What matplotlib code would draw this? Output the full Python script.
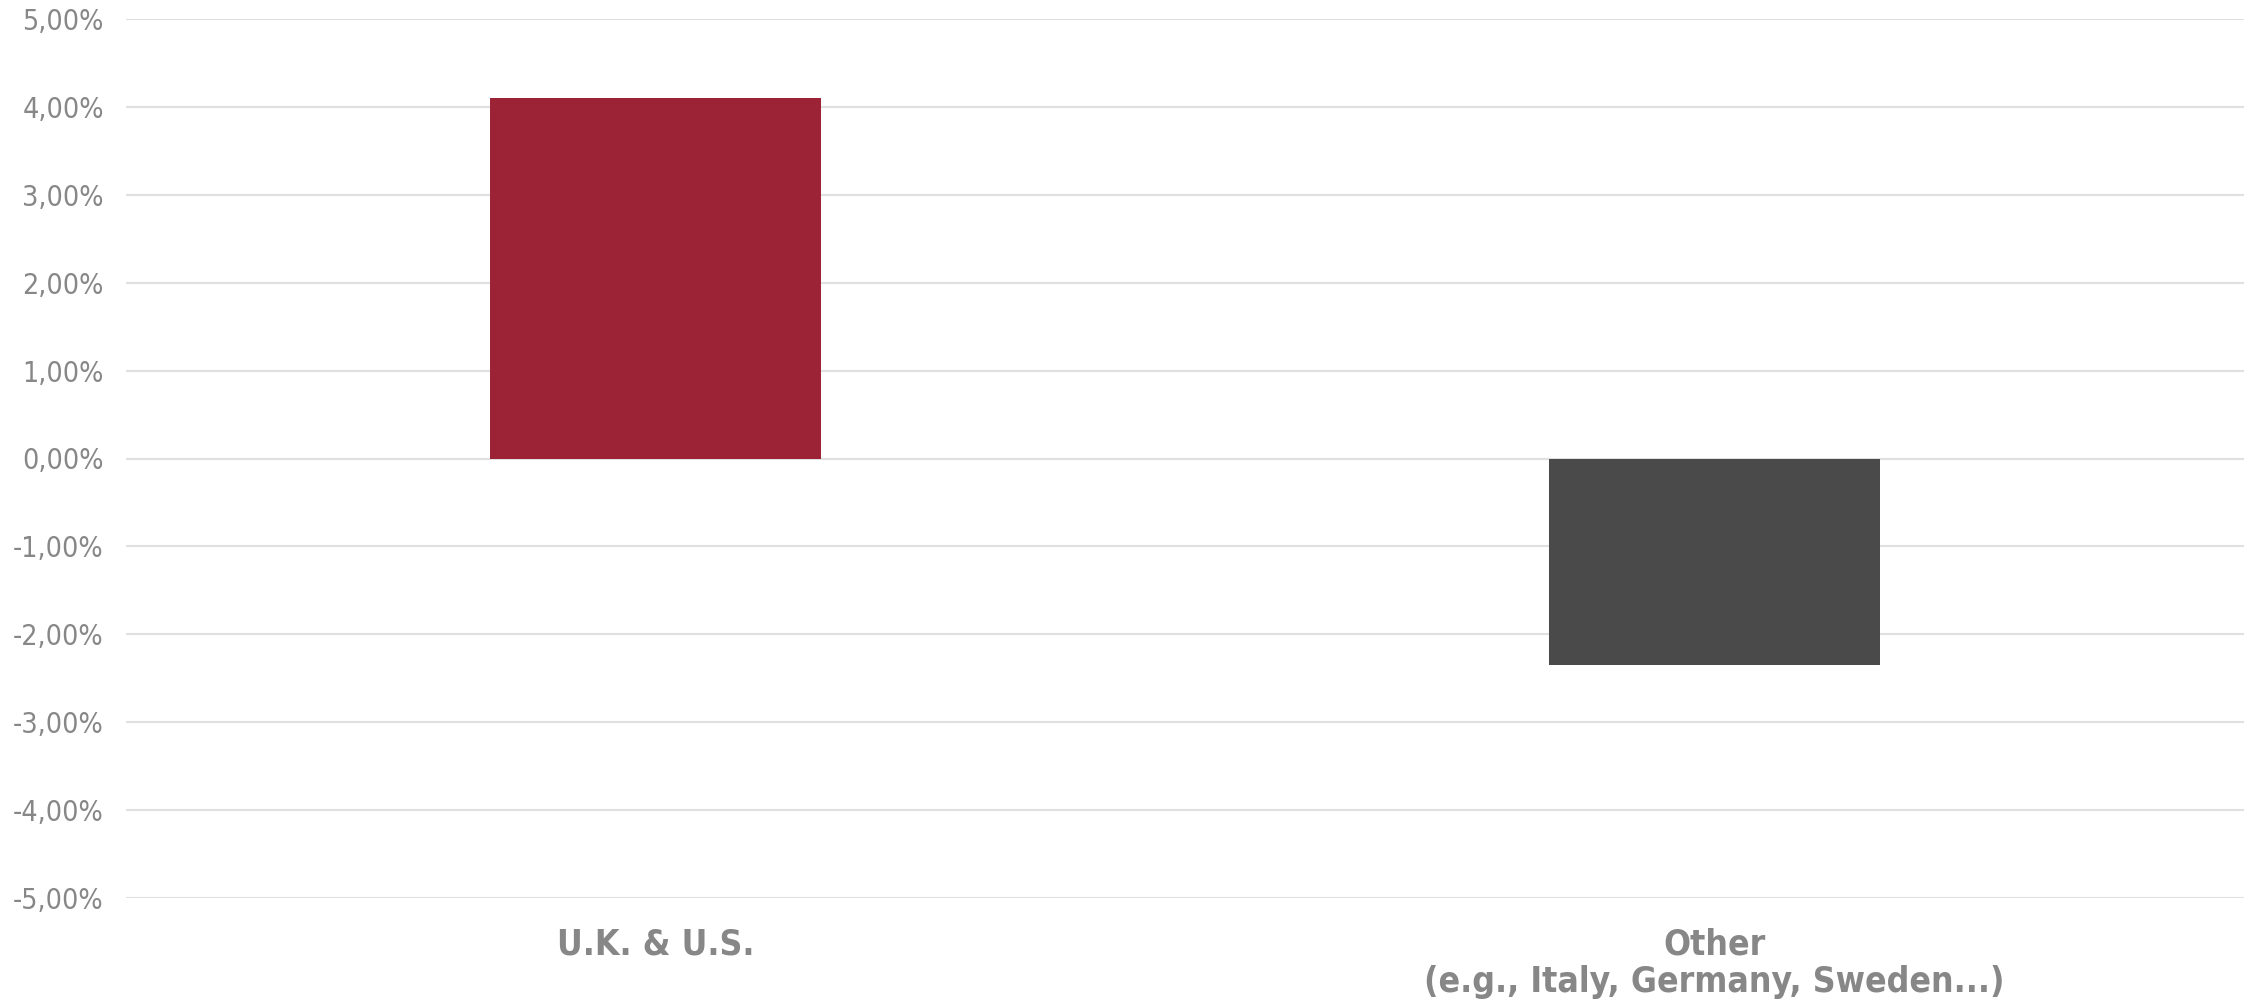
import numpy as np
import matplotlib
matplotlib.use('Agg')
import matplotlib.pyplot as plt
from matplotlib.ticker import FuncFormatter

# bar values in percent
categories = ['U.K. & U.S.', 'Other\n(e.g., Italy, Germany, Sweden...)']
values = [4.10, -2.35]
bar_colors = ['#9C2236', '#4A4A4A']
yticks = [-5, -4, -3, -2, -1, 0, 1, 2, 3, 4, 5]

plt.rcParams['font.family'] = ['DejaVu Sans']
plt.rcParams['font.stretch'] = 'condensed'

fig = plt.figure(figsize=(22.54, 10), dpi=100)
ax = fig.add_axes([0.0559, 0.102, 0.9397, 0.879])

x = np.arange(len(categories))
ax.bar(x, values, width=0.3125, color=bar_colors, zorder=3)

ax.set_xlim(-0.5, 1.5)
ax.set_ylim(-5, 5)
ax.set_yticks(yticks)
ax.yaxis.set_major_formatter(FuncFormatter(lambda v, p: f'{v:.2f}%'.replace('.', ',')))
ax.grid(axis='y', color='#E0E0E0', linewidth=1.5, zorder=0)

ax.set_xticks(x)
ax.set_xticklabels(categories, fontsize=25.5, fontweight='bold', color='#878787',
                   linespacing=1.15)
ax.tick_params(axis='x', length=0, pad=21)
ax.tick_params(axis='y', length=0, pad=16, labelsize=20.5, labelcolor='#878787')

for s in ax.spines.values():
    s.set_visible(False)

fig.savefig('out.png', dpi=100)
